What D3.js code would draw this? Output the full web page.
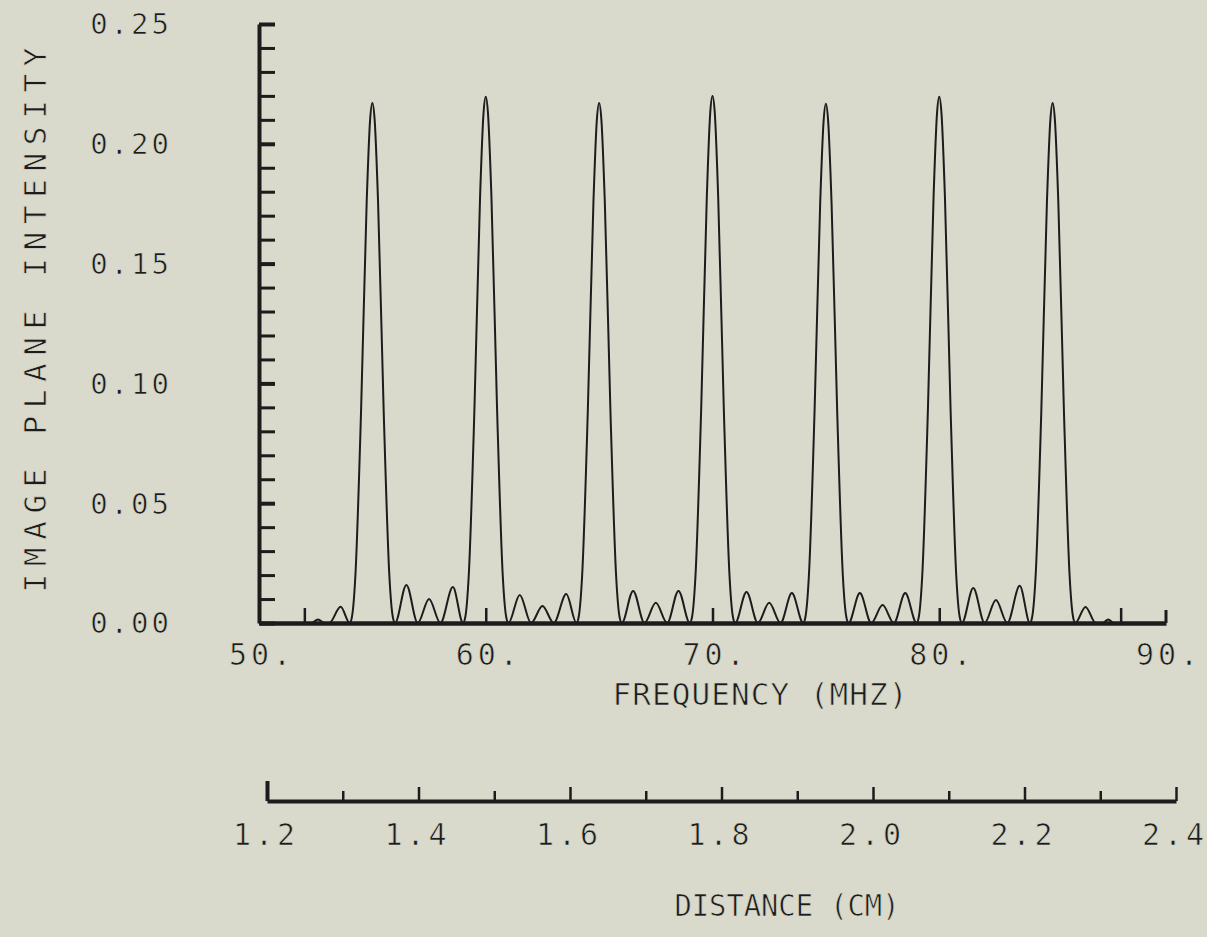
<!DOCTYPE html>
<html><head><meta charset="utf-8">
<script src="https://cdn.jsdelivr.net/npm/d3@7"></script>
<style>
html,body{margin:0;padding:0;background:#d9dacb;}
svg{display:block;}
text{font-family:"DejaVu Sans Mono",monospace;fill:#1c1c1c;stroke:#d9dacb;stroke-width:0.7px;}
</style></head><body>
<svg id="chart" width="1207" height="937"></svg>
<script>
// ---------- data ----------
const yTickLabels = [0.00, 0.05, 0.10, 0.15, 0.20, 0.25];
const xTickLabels = [50, 60, 70, 80, 90];
const xTickMarks = [52, 60, 70, 80, 88];
const distTicks = [1.2, 1.3, 1.4, 1.5, 1.6, 1.7, 1.8, 1.9, 2.0, 2.1, 2.2, 2.3, 2.4];
const distLabels = [1.2, 1.4, 1.6, 1.8, 2.0, 2.2, 2.4];

// intensity curve: [frequency MHz, image plane intensity]
const leadIn = [[50,0],[52.3,0],[52.6,0.0015],[52.9,0],[53.1,0],[53.6,0.0068],[54.0,0]];
const peak55 = [[54.1,0.0026],[54.25,0.0196],[54.5,0.088],[54.75,0.176],[54.9,0.210],[55.0,0.217],[55.1,0.210],[55.25,0.176],[55.5,0.088],[55.75,0.0196],[55.9,0.0026],[56.0,0]];
const lobes55 = [[56.5,0.0159],[57.0,0],[57.5,0.0100],[58.0,0],[58.55,0.0150],[59.0,0]];
const peak60 = [[59.1,0.0026],[59.25,0.0198],[59.5,0.089],[59.75,0.178],[59.9,0.2125],[60.0,0.2196],[60.1,0.2125],[60.25,0.178],[60.5,0.089],[60.75,0.0198],[60.9,0.0026],[61.0,0]];
const lobes60 = [[61.5,0.0117],[62.0,0],[62.5,0.0071],[63.0,0],[63.55,0.0121],[64.0,0]];
const peak65 = [[64.1,0.0026],[64.25,0.0196],[64.5,0.088],[64.75,0.176],[64.9,0.210],[65.0,0.217],[65.1,0.210],[65.25,0.176],[65.5,0.088],[65.75,0.0196],[65.9,0.0026],[66.0,0]];
const lobes65 = [[66.5,0.0134],[67.0,0],[67.5,0.0084],[68.0,0],[68.5,0.0134],[69.0,0]];
const peak70 = [[69.1,0.0026],[69.25,0.0198],[69.5,0.089],[69.75,0.178],[69.9,0.213],[70.0,0.220],[70.1,0.213],[70.25,0.178],[70.5,0.089],[70.75,0.0198],[70.9,0.0026],[71.0,0]];
const lobes70 = [[71.5,0.0129],[72.0,0],[72.5,0.0084],[73.0,0],[73.5,0.0125],[74.0,0]];
const peak75 = [[74.1,0.0026],[74.25,0.0195],[74.5,0.088],[74.75,0.1755],[74.9,0.2095],[75.0,0.2167],[75.1,0.2095],[75.25,0.1755],[75.5,0.088],[75.75,0.0195],[75.9,0.0026],[76.0,0]];
const lobes75 = [[76.5,0.0125],[77.0,0],[77.5,0.0075],[78.0,0],[78.5,0.0125],[79.0,0]];
const peak80 = [[79.1,0.0026],[79.25,0.0198],[79.5,0.089],[79.75,0.178],[79.9,0.2125],[80.0,0.2196],[80.1,0.2125],[80.25,0.178],[80.5,0.089],[80.75,0.0198],[80.9,0.0026],[81.0,0]];
const lobes80 = [[81.5,0.0146],[82.0,0],[82.5,0.0096],[83.0,0],[83.55,0.0155],[84.0,0]];
const peak85 = [[84.1,0.0026],[84.25,0.0196],[84.5,0.088],[84.75,0.176],[84.9,0.210],[85.0,0.217],[85.1,0.210],[85.25,0.176],[85.5,0.088],[85.75,0.0196],[85.9,0.0026],[86.0,0]];
const tailOut = [[86.45,0.0067],[86.9,0],[87.2,0],[87.45,0.0015],[87.7,0],[90,0]];

const curvePoints = [].concat(leadIn, peak55, lobes55, peak60, lobes60, peak65, lobes65,
  peak70, lobes70, peak75, lobes75, peak80, lobes80, peak85, tailOut);

// ---------- drawing ----------
const ink = "#1c1c1c";
const svg = d3.select("#chart");
const x = d3.scaleLinear().domain([50, 90]).range([259, 1166]);
const y = d3.scaleLinear().domain([0, 0.25]).range([623, 24]);
const xd = d3.scaleLinear().domain([1.2, 2.4]).range([267, 1176]);

// data curve
const line = d3.line().x(d => x(d[0])).y(d => y(d[1])).curve(d3.curveMonotoneX);
svg.append("path").datum(curvePoints)
  .attr("d", line).attr("fill", "none")
  .attr("stroke", ink).attr("stroke-width", 2).attr("stroke-linejoin", "round");

// Y axis with inward ticks every 0.01
const yMinor = y.ticks(25);
const gy = svg.append("g").attr("transform", `translate(${x(50)},0)`)
  .call(d3.axisRight(y).tickValues(yMinor).tickSize(16).tickSizeOuter(0).tickFormat(""));
gy.select(".domain").attr("stroke", ink).attr("stroke-width", 4);
gy.selectAll(".tick line").attr("stroke", ink)
  .attr("stroke-width", d => (Math.round(d * 100) % 5 === 0 ? 4 : 3));

svg.append("g").selectAll("text").data(yTickLabels).join("text")
  .attr("x", 172).attr("y", d => y(d)).attr("dy", "0.36em")
  .attr("text-anchor", "end").attr("font-size", 29).attr("letter-spacing", 3)
  .text(d => d3.format(".2f")(d));

// X axis (frequency)
const gx = svg.append("g").attr("transform", `translate(0,${y(0)})`)
  .call(d3.axisTop(x).tickValues(xTickMarks).tickSize(15).tickSizeOuter(0).tickFormat(""));
gx.select(".domain").attr("stroke", ink).attr("stroke-width", 4.5);
gx.selectAll(".tick line").attr("stroke", ink).attr("stroke-width", 2.5);
svg.append("line").attr("x1", x(90)).attr("x2", x(90))
  .attr("y1", y(0)).attr("y2", y(0) - 13).attr("stroke", ink).attr("stroke-width", 3);

svg.append("g").selectAll("text").data(xTickLabels).join("text")
  .attr("x", d => x(d) + 3).attr("y", 654).attr("dy", "0.36em")
  .attr("text-anchor", "middle").attr("font-size", 30).attr("letter-spacing", 4)
  .text(d => d + ".");

svg.append("text").attr("x", 760).attr("y", 694).attr("dy", "0.36em")
  .attr("text-anchor", "middle").attr("font-size", 31)
  .attr("textLength", 295).attr("lengthAdjust", "spacing")
  .text("FREQUENCY (MHZ)");

// distance axis
const gd = svg.append("g").attr("transform", "translate(0,801)")
  .call(d3.axisTop(xd).tickValues(distTicks).tickSizeOuter(0).tickFormat(""));
gd.select(".domain").attr("stroke", ink).attr("stroke-width", 4);
gd.selectAll(".tick line").attr("stroke", ink)
  .attr("stroke-width", (d, i) => (i === 0 ? 4 : 2.5))
  .attr("y2", (d, i) => (i === 0 ? -20 : (i % 2 === 0 ? -14 : -10)));

svg.append("g").selectAll("text").data(distLabels).join("text")
  .attr("x", d => xd(d) - 1).attr("y", 834).attr("dy", "0.36em")
  .attr("text-anchor", "middle").attr("font-size", 30).attr("letter-spacing", 4)
  .text(d => d3.format(".1f")(d));

svg.append("text").attr("x", 787).attr("y", 905).attr("dy", "0.36em")
  .attr("text-anchor", "middle").attr("font-size", 31)
  .attr("textLength", 225).attr("lengthAdjust", "spacingAndGlyphs")
  .text("DISTANCE (CM)");

// y title
svg.append("text").attr("transform", "translate(35,320) rotate(-90)")
  .attr("dy", "0.36em").attr("text-anchor", "middle").attr("font-size", 31)
  .attr("textLength", 545).attr("lengthAdjust", "spacing")
  .text("IMAGE PLANE INTENSITY");
</script>
</body></html>
